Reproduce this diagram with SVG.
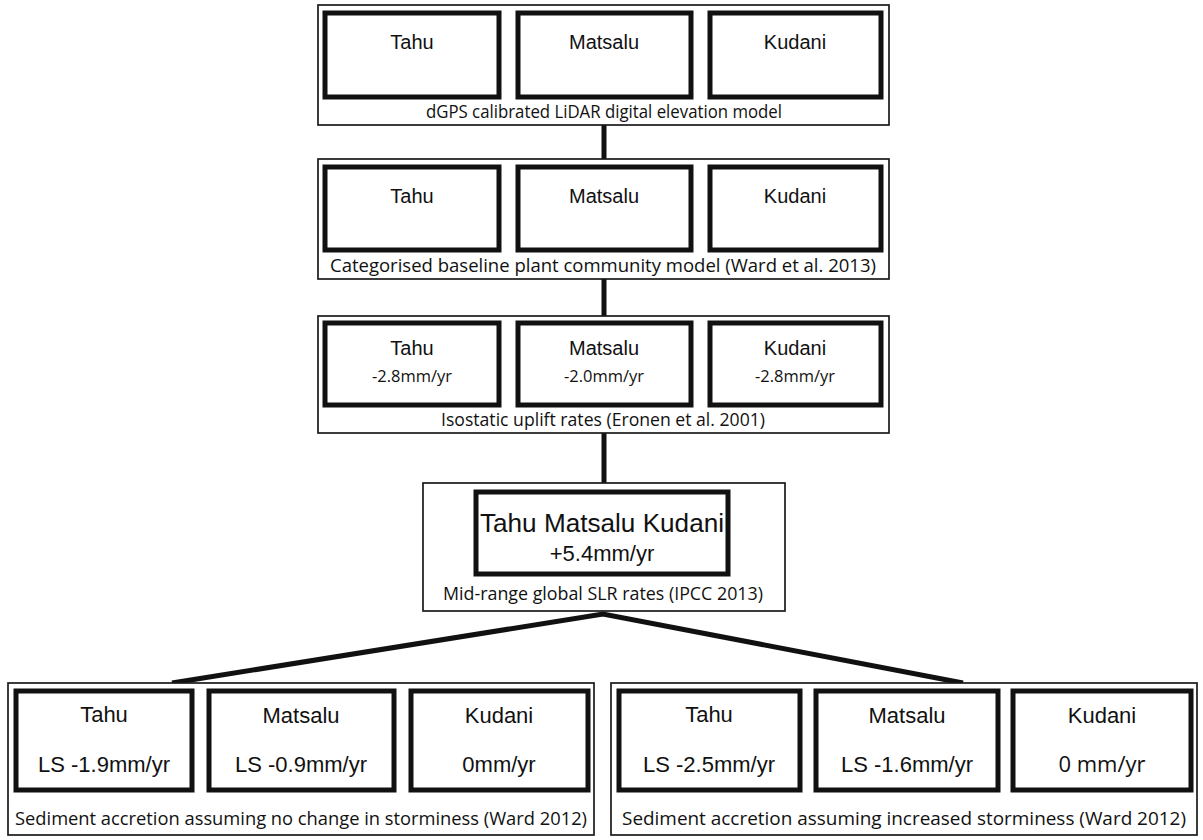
<svg xmlns="http://www.w3.org/2000/svg" width="1203" height="840" viewBox="0 0 1203 840">
<style>
.outer{fill:#fff;stroke:#1a1a1a;stroke-width:1.7}
.inner{fill:#fff;stroke:#111;stroke-width:5}
.lbl{font-family:"Liberation Sans",Arial,sans-serif;font-size:20px;fill:#111;text-anchor:middle}
.big{font-family:"Liberation Sans",Arial,sans-serif;font-size:22px;fill:#111;text-anchor:middle}
.sub{font-family:"Open Sans","Noto Sans",sans-serif;font-size:17px;fill:#111;text-anchor:middle}
.cap{font-family:"Open Sans","Noto Sans",sans-serif;font-size:18px;fill:#111;text-anchor:middle}
.con{fill:none;stroke:#111;stroke-width:5}
</style>
<rect width="1203" height="840" fill="#fff"/>
<g id="connectors">
<line class="con" x1="604" y1="125" x2="604" y2="159"/>
<line class="con" x1="604" y1="279" x2="604" y2="316"/>
<line class="con" x1="604" y1="433" x2="604" y2="483"/>
<polyline class="con" points="172,683 603,614 963,683"/>
</g>
<g id="level1">
<rect class="outer" x="318" y="5" width="571" height="120"/>
<rect class="inner" x="325" y="13" width="174" height="84"/>
<rect class="inner" x="518" y="13" width="173" height="84"/>
<rect class="inner" x="710" y="13" width="171" height="84"/>
<text class="lbl" x="412" y="49">Tahu</text>
<text class="lbl" x="604" y="49">Matsalu</text>
<text class="lbl" x="795" y="49">Kudani</text>
<text class="cap" x="604" y="118" textLength="356" lengthAdjust="spacingAndGlyphs">dGPS calibrated LiDAR digital elevation model</text>
</g>
<g id="level2">
<rect class="outer" x="318" y="159" width="571" height="120"/>
<rect class="inner" x="325" y="167" width="174" height="83"/>
<rect class="inner" x="518" y="167" width="173" height="83"/>
<rect class="inner" x="710" y="167" width="171" height="83"/>
<text class="lbl" x="412" y="203">Tahu</text>
<text class="lbl" x="604" y="203">Matsalu</text>
<text class="lbl" x="795" y="203">Kudani</text>
<text class="cap" x="603" y="272" textLength="546" lengthAdjust="spacingAndGlyphs">Categorised baseline plant community model (Ward et al. 2013)</text>
</g>
<g id="level3">
<rect class="outer" x="318" y="316" width="571" height="117"/>
<rect class="inner" x="325" y="323" width="174" height="82"/>
<rect class="inner" x="518" y="323" width="173" height="82"/>
<rect class="inner" x="710" y="323" width="171" height="82"/>
<text class="lbl" x="412" y="355">Tahu</text>
<text class="lbl" x="604" y="355">Matsalu</text>
<text class="lbl" x="795" y="355">Kudani</text>
<text class="sub" x="412" y="382" textLength="80" lengthAdjust="spacingAndGlyphs">-2.8mm/yr</text>
<text class="sub" x="604" y="382" textLength="80" lengthAdjust="spacingAndGlyphs">-2.0mm/yr</text>
<text class="sub" x="795" y="382" textLength="80" lengthAdjust="spacingAndGlyphs">-2.8mm/yr</text>
<text class="cap" x="603" y="426" textLength="324" lengthAdjust="spacingAndGlyphs">Isostatic uplift rates (Eronen et al. 2001)</text>
</g>
<g id="level4">
<rect class="outer" x="423" y="483" width="362" height="128"/>
<rect class="inner" x="476" y="492" width="252" height="82"/>
<text class="big" x="602" y="532" style="font-size:26px" textLength="244" lengthAdjust="spacingAndGlyphs">Tahu Matsalu Kudani</text>
<text class="big" x="602" y="561">+5.4mm/yr</text>
<text class="cap" x="603" y="600" textLength="320" lengthAdjust="spacingAndGlyphs">Mid-range global SLR rates (IPCC 2013)</text>
</g>
<g id="scenario-no-change">
<rect class="outer" x="8" y="683" width="586" height="152"/>
<rect class="inner" x="16" y="691" width="176" height="99"/>
<rect class="inner" x="209" y="691" width="185" height="99"/>
<rect class="inner" x="411" y="691" width="177" height="99"/>
<text class="lbl" x="104" y="722" style="font-size:22px">Tahu</text>
<text class="lbl" x="301" y="723" style="font-size:22px">Matsalu</text>
<text class="lbl" x="499" y="723" style="font-size:22px">Kudani</text>
<text class="lbl" x="104" y="772" style="font-size:22px">LS -1.9mm/yr</text>
<text class="lbl" x="301" y="772" style="font-size:22px">LS -0.9mm/yr</text>
<text class="lbl" x="499" y="772" style="font-size:22px">0mm/yr</text>
<text class="cap" x="301" y="825" style="font-size:19px" textLength="572" lengthAdjust="spacingAndGlyphs">Sediment accretion assuming no change in storminess (Ward 2012)</text>
</g>
<g id="scenario-increased">
<rect class="outer" x="611" y="683" width="586" height="152"/>
<rect class="inner" x="619" y="691" width="181" height="99"/>
<rect class="inner" x="816" y="691" width="182" height="99"/>
<rect class="inner" x="1013" y="691" width="178" height="99"/>
<text class="lbl" x="709" y="722" style="font-size:22px">Tahu</text>
<text class="lbl" x="907" y="723" style="font-size:22px">Matsalu</text>
<text class="lbl" x="1102" y="723" style="font-size:22px">Kudani</text>
<text class="lbl" x="709" y="772" style="font-size:22px">LS -2.5mm/yr</text>
<text class="lbl" x="907" y="772" style="font-size:22px">LS -1.6mm/yr</text>
<text class="sub" x="1102" y="772" style="font-size:22px">0 mm/yr</text>
<text class="cap" x="904" y="825" style="font-size:19px" textLength="564" lengthAdjust="spacingAndGlyphs">Sediment accretion assuming increased storminess (Ward 2012)</text>
</g>
</svg>
